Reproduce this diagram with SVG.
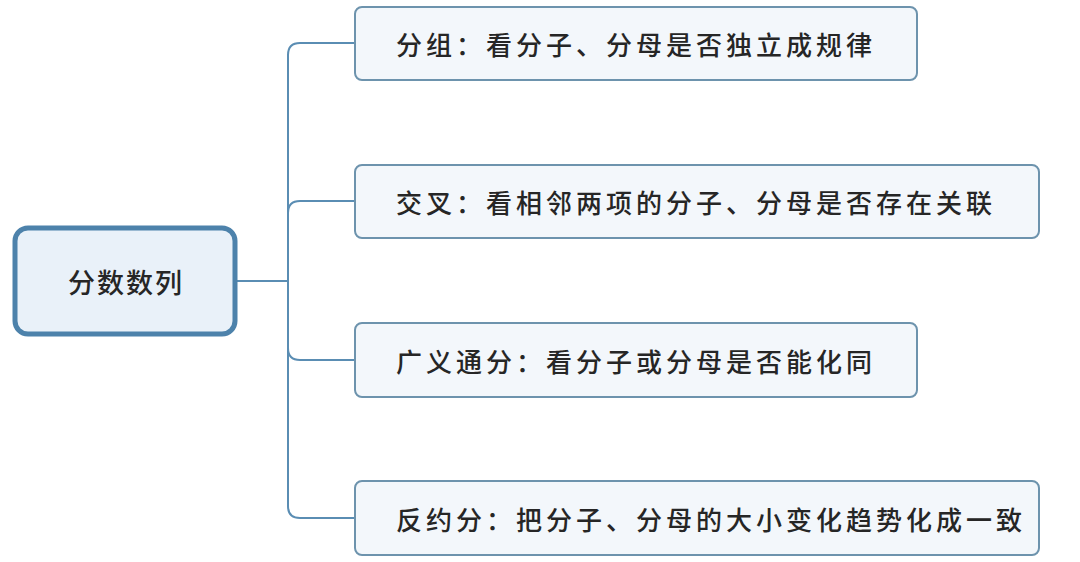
<svg xmlns="http://www.w3.org/2000/svg" width="1080" height="562" viewBox="0 0 1080 562">
<style>
.box{fill:#f3f7fb;stroke:#6d93ad;stroke-width:2}
.root{fill:#e9f1f9;stroke:#4d82ab;stroke-width:5}
.t{font-family:"Noto Sans CJK SC","Noto Sans",sans-serif;font-size:26px;letter-spacing:4px;fill:#262626;font-weight:500;dominant-baseline:central}
.rt{font-size:27px;letter-spacing:2px}
.c{fill:none;stroke:#5a8db3;stroke-width:2}
</style>
<rect width="1080" height="562" fill="#ffffff"/>
<g id="connectors">
<path class="c" d="M236,281 H288"/>
<path class="c" d="M355,43 H300 Q288,43 288,55 V506 Q288,518 300,518 H355"/>
<path class="c" d="M288,213 Q288,201 300,201 H355"/>
<path class="c" d="M288,348 Q288,360 300,360 H355"/>
</g>
<g id="root">
<rect class="root" x="15" y="228" width="220" height="106" rx="13"/>
<text class="t rt" x="68" y="281">分数数列</text>
</g>
<g id="n1">
<rect class="box" x="355" y="7" width="562" height="73" rx="7"/>
<text class="t" x="396" y="43">分组：看分子、分母是否独立成规律</text>
</g>
<g id="n2">
<rect class="box" x="355" y="165" width="684" height="73" rx="7"/>
<text class="t" x="396" y="201">交叉：看相邻两项的分子、分母是否存在关联</text>
</g>
<g id="n3">
<rect class="box" x="355" y="323" width="562" height="74" rx="7"/>
<text class="t" x="396" y="360">广义通分：看分子或分母是否能化同</text>
</g>
<g id="n4">
<rect class="box" x="355" y="481" width="684" height="74" rx="7"/>
<text class="t" x="396" y="518">反约分：把分子、分母的大小变化趋势化成一致</text>
</g>
</svg>
